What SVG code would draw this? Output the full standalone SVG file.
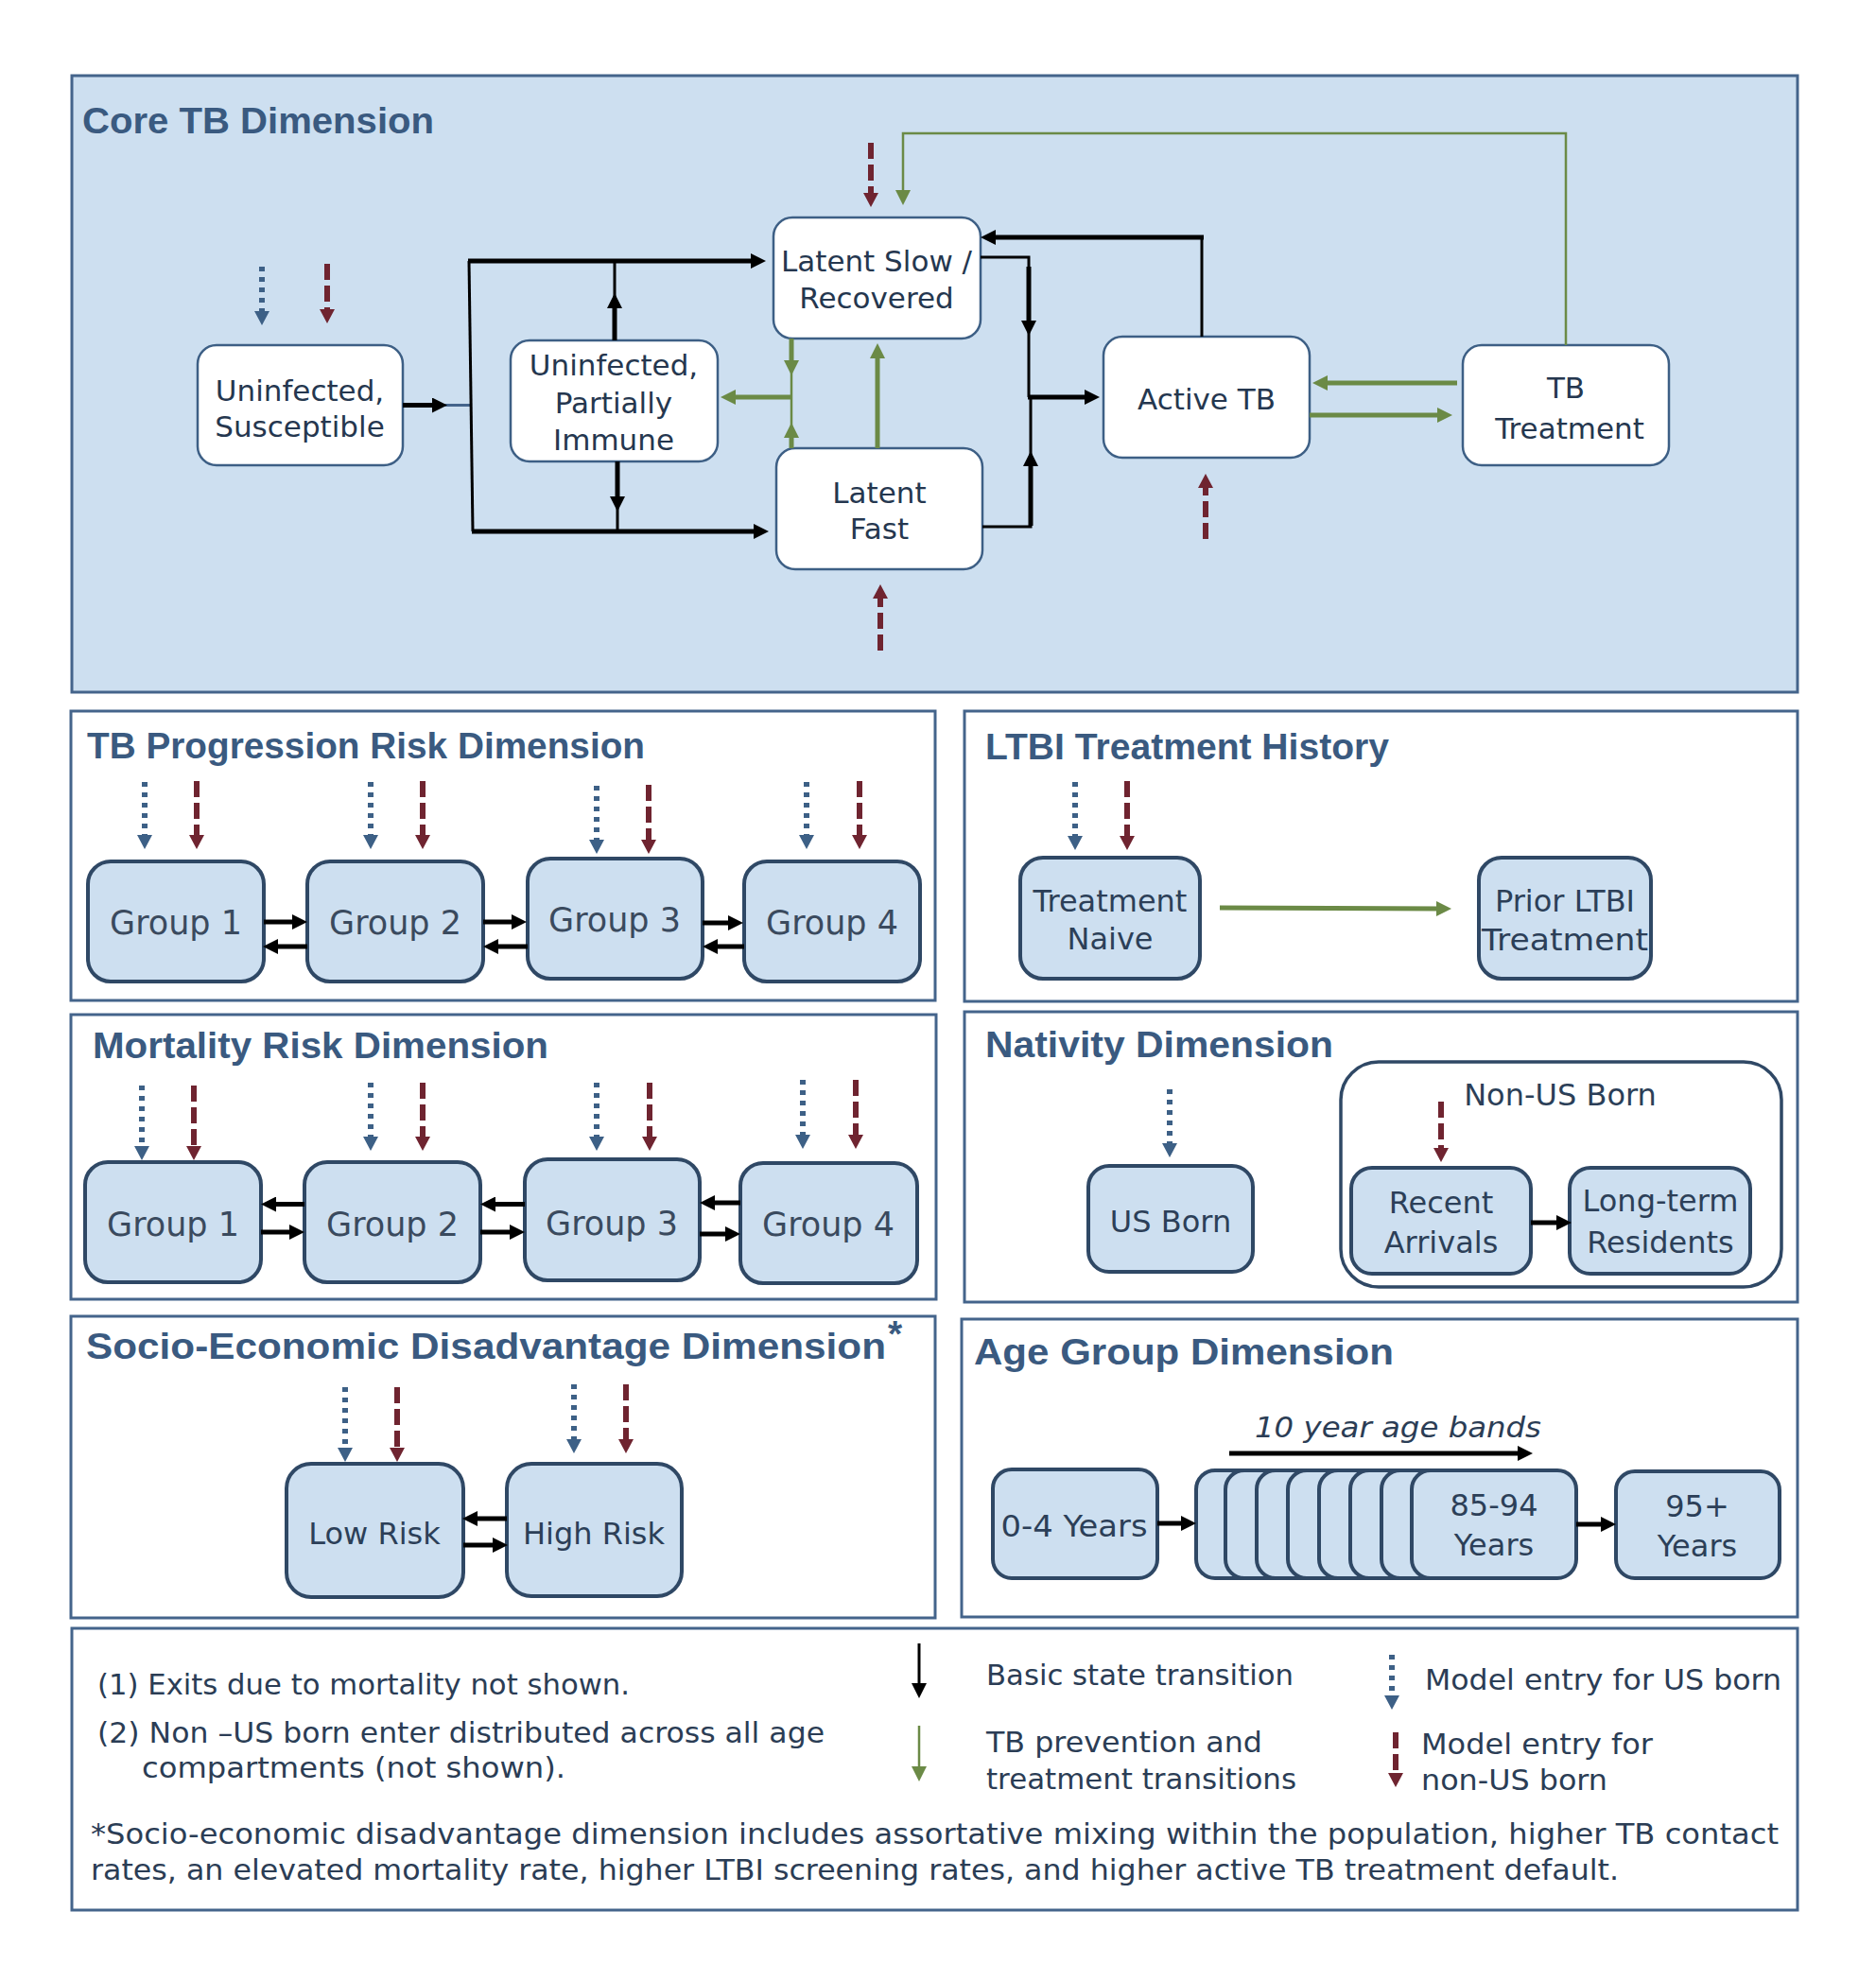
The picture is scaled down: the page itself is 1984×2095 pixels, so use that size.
<svg xmlns="http://www.w3.org/2000/svg" width="1984" height="2095" viewBox="0 0 1984 2095">
<style>
.bg{fill:#ffffff}
.pcore{fill:#cddff0;stroke:#44648b;stroke-width:3}
.panel{fill:#ffffff;stroke:#44648b;stroke-width:3}
.wn{fill:#ffffff;stroke:#3d5f85;stroke-width:2.5}
.bn{fill:#cddff0;stroke:#2f4865;stroke-width:4}
.box{fill:#ffffff;stroke:#2f4865;stroke-width:3.5}
.title{font-family:"Liberation Sans",Arial,sans-serif;font-weight:bold;fill:#3a5a80;font-size:39px}
.t{font-family:"DejaVu Sans",sans-serif;fill:#25374f;font-size:31px;text-anchor:middle}
.tg{font-family:"DejaVu Sans",sans-serif;fill:#3a4a5e;font-size:35px;text-anchor:middle}
.tb{font-family:"DejaVu Sans",sans-serif;fill:#2c3f58;font-size:32px;text-anchor:middle}
.lg{font-family:"DejaVu Sans",sans-serif;fill:#2b3d55;font-size:30px}
.k5{stroke:#000;stroke-width:5;fill:none}
.k3{stroke:#000;stroke-width:3;fill:none}
.s3{stroke:#44648b;stroke-width:3;fill:none}
.g5{stroke:#6b8a46;stroke-width:5;fill:none}
.g2{stroke:#6b8a46;stroke-width:2.5;fill:none}
.us{stroke:#3d6086;stroke-width:6;stroke-dasharray:5 6;fill:none}
.nus{stroke:#6f2430;stroke-width:6;stroke-dasharray:17 6;fill:none}
</style>
<defs>
<marker id="ak" markerUnits="userSpaceOnUse" markerWidth="16" markerHeight="16" refX="6" refY="8" orient="auto"><path d="M0,0 L16,8 L0,16 z" fill="#000"/></marker>
<marker id="ag" markerUnits="userSpaceOnUse" markerWidth="16" markerHeight="16" refX="6" refY="8" orient="auto"><path d="M0,0 L16,8 L0,16 z" fill="#6b8a46"/></marker>
<marker id="ab" markerUnits="userSpaceOnUse" markerWidth="16" markerHeight="16" refX="5" refY="8" orient="auto"><path d="M0,0 L15,8 L0,16 z" fill="#3d6086"/></marker>
<marker id="ar" markerUnits="userSpaceOnUse" markerWidth="16" markerHeight="16" refX="5" refY="8" orient="auto"><path d="M0,0 L15,8 L0,16 z" fill="#6f2430"/></marker>
</defs>
<rect class="bg" x="0" y="0" width="1984" height="2095"/>

<!-- Panels -->
<g id="panel-core">
<rect class="pcore" x="76" y="80" width="1825" height="652"/>
<text class="title" x="87" y="141" font-size="41" textLength="372" lengthAdjust="spacingAndGlyphs">Core TB Dimension</text>
</g>
<g id="panel-progression">
<rect class="panel" x="75" y="752" width="914" height="306"/>
<text class="title" x="92" y="802" textLength="590" lengthAdjust="spacingAndGlyphs">TB Progression Risk Dimension</text>
</g>
<g id="panel-mortality">
<rect class="panel" x="75" y="1073" width="915" height="301"/>
<text class="title" x="98" y="1119" textLength="482" lengthAdjust="spacingAndGlyphs">Mortality Risk Dimension</text>
</g>
<g id="panel-ltbi">
<rect class="panel" x="1020" y="752" width="881" height="307"/>
<text class="title" x="1042" y="803" textLength="427" lengthAdjust="spacingAndGlyphs">LTBI Treatment History</text>
</g>
<g id="panel-nativity">
<rect class="panel" x="1020" y="1070" width="881" height="307"/>
<text class="title" x="1042" y="1118" textLength="368" lengthAdjust="spacingAndGlyphs">Nativity Dimension</text>
</g>
<g id="panel-socio">
<rect class="panel" x="75" y="1392" width="914" height="319"/>
<text class="title" x="91" y="1437" textLength="846" lengthAdjust="spacingAndGlyphs">Socio-Economic Disadvantage Dimension</text>
<text class="title" x="939" y="1424" font-size="20">*</text>
</g>
<g id="panel-age">
<rect class="panel" x="1017" y="1395" width="884" height="315"/>
<text class="title" x="1030" y="1443" textLength="444" lengthAdjust="spacingAndGlyphs">Age Group Dimension</text>
<text class="lg" x="1327" y="1520" font-style="italic" textLength="303" lengthAdjust="spacingAndGlyphs">10 year age bands</text>
</g>
<g id="panel-legend">
<rect class="panel" x="76" y="1722" width="1825" height="298"/>
<text class="lg" x="103" y="1792" textLength="563" lengthAdjust="spacingAndGlyphs">(1) Exits due to mortality not shown.</text>
<text class="lg" x="103" y="1843" textLength="769" lengthAdjust="spacingAndGlyphs">(2) Non –US born enter distributed across all age</text>
<text class="lg" x="150" y="1880" textLength="448" lengthAdjust="spacingAndGlyphs">compartments (not shown).</text>
<text class="lg" x="1043" y="1782" textLength="325" lengthAdjust="spacingAndGlyphs">Basic state transition</text>
<text class="lg" x="1043" y="1853" textLength="292" lengthAdjust="spacingAndGlyphs">TB prevention and</text>
<text class="lg" x="1043" y="1892" textLength="328" lengthAdjust="spacingAndGlyphs">treatment transitions</text>
<text class="lg" x="1507" y="1787" textLength="377" lengthAdjust="spacingAndGlyphs">Model entry for US born</text>
<text class="lg" x="1503" y="1855" textLength="245" lengthAdjust="spacingAndGlyphs">Model entry for</text>
<text class="lg" x="1503" y="1893" textLength="197" lengthAdjust="spacingAndGlyphs">non-US born</text>
<text class="lg" x="96" y="1950" textLength="1785" lengthAdjust="spacingAndGlyphs">*Socio-economic disadvantage dimension includes assortative mixing within the population, higher TB contact</text>
<text class="lg" x="96" y="1988" textLength="1616" lengthAdjust="spacingAndGlyphs">rates, an elevated mortality rate, higher LTBI screening rates, and higher active TB treatment default.</text>
</g>

<!-- Core nodes -->
<g id="n-susceptible"><rect class="wn" x="209" y="365" width="217" height="127" rx="20"/>
<text class="t" x="317" y="424" font-size="32">Uninfected,</text><text class="t" x="317" y="462" font-size="32">Susceptible</text></g>
<g id="n-partial"><rect class="wn" x="540" y="360" width="219" height="128" rx="20"/>
<text class="t" x="649" y="397">Uninfected,</text><text class="t" x="649" y="437">Partially</text><text class="t" x="649" y="476">Immune</text></g>
<g id="n-latentslow"><rect class="wn" x="818" y="230" width="219" height="128" rx="20"/>
<text class="t" x="927" y="287">Latent Slow /</text><text class="t" x="927" y="326">Recovered</text></g>
<g id="n-latentfast"><rect class="wn" x="821" y="474" width="218" height="128" rx="20"/>
<text class="t" x="930" y="532">Latent</text><text class="t" x="930" y="570">Fast</text></g>
<g id="n-active"><rect class="wn" x="1167" y="356" width="218" height="128" rx="20"/>
<text class="t" x="1276" y="433">Active TB</text></g>
<g id="n-treatment"><rect class="wn" x="1547" y="365" width="218" height="127" rx="20"/>
<text class="t" x="1656" y="421">TB</text><text class="t" x="1660" y="464">Treatment</text></g>

<!-- Progression nodes -->
<g id="n-prog1"><rect class="bn" x="93" y="911" width="186" height="127" rx="24"/><text class="tg" x="186" y="988">Group 1</text></g>
<g id="n-prog2"><rect class="bn" x="325" y="911" width="186" height="127" rx="24"/><text class="tg" x="418" y="988">Group 2</text></g>
<g id="n-prog3"><rect class="bn" x="558" y="908" width="185" height="127" rx="24"/><text class="tg" x="650" y="985">Group 3</text></g>
<g id="n-prog4"><rect class="bn" x="787" y="911" width="186" height="127" rx="24"/><text class="tg" x="880" y="988">Group 4</text></g>

<!-- Mortality nodes -->
<g id="n-mort1"><rect class="bn" x="90" y="1229" width="186" height="127" rx="24"/><text class="tg" x="183" y="1307">Group 1</text></g>
<g id="n-mort2"><rect class="bn" x="322" y="1229" width="186" height="127" rx="24"/><text class="tg" x="415" y="1307">Group 2</text></g>
<g id="n-mort3"><rect class="bn" x="555" y="1226" width="185" height="128" rx="24"/><text class="tg" x="647" y="1306">Group 3</text></g>
<g id="n-mort4"><rect class="bn" x="783" y="1230" width="187" height="127" rx="24"/><text class="tg" x="876" y="1307">Group 4</text></g>

<!-- LTBI nodes -->
<g id="n-naive"><rect class="bn" x="1079" y="907" width="190" height="128" rx="24"/>
<text class="tb" x="1174" y="964">Treatment</text><text class="tb" x="1174" y="1004">Naive</text></g>
<g id="n-prior"><rect class="bn" x="1564" y="907" width="182" height="128" rx="24"/>
<text class="tb" x="1655" y="964">Prior LTBI</text><text class="tb" x="1655" y="1005" textLength="176" lengthAdjust="spacingAndGlyphs">Treatment</text></g>

<!-- Nativity nodes -->
<g id="n-nonus"><rect class="box" x="1418" y="1123" width="466" height="238" rx="40"/>
<text class="tb" x="1650" y="1169" font-size="30" fill="#1e2633">Non-US Born</text></g>
<g id="n-usborn"><rect class="bn" x="1151" y="1233" width="174" height="112" rx="22"/><text class="tb" x="1238" y="1303">US Born</text></g>
<g id="n-recent"><rect class="bn" x="1429" y="1235" width="190" height="112" rx="22"/>
<text class="tb" x="1524" y="1283">Recent</text><text class="tb" x="1524" y="1325">Arrivals</text></g>
<g id="n-longterm"><rect class="bn" x="1660" y="1235" width="191" height="112" rx="22"/>
<text class="tb" x="1756" y="1281">Long-term</text><text class="tb" x="1756" y="1325">Residents</text></g>

<!-- Socio nodes -->
<g id="n-low"><rect class="bn" x="303" y="1548" width="187" height="141" rx="26"/><text class="tb" x="396" y="1633">Low Risk</text></g>
<g id="n-high"><rect class="bn" x="536" y="1548" width="185" height="140" rx="26"/><text class="tb" x="628" y="1633">High Risk</text></g>

<!-- Age nodes -->
<g id="n-age04"><rect class="bn" x="1050" y="1554" width="174" height="115" rx="20"/><text class="tb" x="1136" y="1625" textLength="155" lengthAdjust="spacingAndGlyphs">0-4 Years</text></g>
<g id="n-agebands">
<rect class="bn" x="1265" y="1555" width="174" height="114" rx="20"/>
<rect class="bn" x="1296" y="1555" width="174" height="114" rx="20"/>
<rect class="bn" x="1329" y="1555" width="174" height="114" rx="20"/>
<rect class="bn" x="1362" y="1555" width="174" height="114" rx="20"/>
<rect class="bn" x="1395" y="1555" width="174" height="114" rx="20"/>
<rect class="bn" x="1428" y="1555" width="174" height="114" rx="20"/>
<rect class="bn" x="1461" y="1555" width="174" height="114" rx="20"/>
<rect class="bn" x="1493" y="1555" width="174" height="114" rx="20"/>
<text class="tb" x="1580" y="1603">85-94</text><text class="tb" x="1580" y="1645">Years</text></g>
<g id="n-age95"><rect class="bn" x="1709" y="1556" width="173" height="113" rx="20"/>
<text class="tb" x="1795" y="1604">95+</text><text class="tb" x="1795" y="1646">Years</text></g>

<!-- Connectors -->
<g id="connectors">
<!-- core black -->
<line class="s3" x1="426" y1="428.5" x2="497" y2="428.5"/>
<line class="k5" x1="426" y1="428.5" x2="463" y2="428.5" marker-end="url(#ak)"/>
<polyline class="k3" points="496,276 500,562"/>
<line class="k5" x1="495" y1="276" x2="800" y2="276" marker-end="url(#ak)"/>
<line class="k5" x1="499" y1="562" x2="803" y2="562" marker-end="url(#ak)"/>
<line class="k3" x1="650" y1="360" x2="650" y2="276"/>
<line class="k5" x1="650" y1="360" x2="650" y2="320" marker-end="url(#ak)"/>
<line class="k3" x1="653" y1="488" x2="653" y2="562"/>
<line class="k5" x1="653" y1="488" x2="653" y2="531" marker-end="url(#ak)"/>
<polyline class="k3" points="1037,272 1088,272 1088,420"/>
<line class="k5" x1="1088" y1="282" x2="1088" y2="345" marker-end="url(#ak)"/>
<polyline class="k3" points="1039,557 1090,557 1090,420"/>
<line class="k5" x1="1090" y1="556" x2="1090" y2="487" marker-end="url(#ak)"/>
<line class="k5" x1="1087" y1="420" x2="1153" y2="420" marker-end="url(#ak)"/>
<line class="k3" x1="1271" y1="356" x2="1271" y2="251"/>
<line class="k5" x1="1273" y1="251" x2="1047" y2="251" marker-end="url(#ak)"/>
<!-- core green -->
<line class="g5" x1="1541" y1="405" x2="1398" y2="405" marker-end="url(#ag)"/>
<line class="g5" x1="1385" y1="439" x2="1526" y2="439" marker-end="url(#ag)"/>
<polyline class="g2" points="1656,365 1656,141 955,141 955,207" marker-end="url(#ag)"/>
<line class="g2" x1="837" y1="358" x2="837" y2="474"/>
<line class="g5" x1="837" y1="358" x2="837" y2="387" marker-end="url(#ag)"/>
<line class="g5" x1="837" y1="474" x2="837" y2="457" marker-end="url(#ag)"/>
<line class="g5" x1="838" y1="420" x2="772" y2="420" marker-end="url(#ag)"/>
<line class="g5" x1="928" y1="474" x2="928" y2="373" marker-end="url(#ag)"/>
<!-- core entries -->
<line class="us" x1="277" y1="282" x2="277" y2="334" marker-end="url(#ab)"/>
<line class="nus" x1="346" y1="279" x2="346" y2="332" marker-end="url(#ar)"/>
<line class="nus" x1="921" y1="151" x2="921" y2="209" marker-end="url(#ar)"/>
<line class="nus" x1="931" y1="688" x2="931" y2="628" marker-end="url(#ar)"/>
<line class="nus" x1="1275" y1="570" x2="1275" y2="511" marker-end="url(#ar)"/>

<!-- progression -->
<line class="k5" x1="279" y1="975" x2="315" y2="975" marker-end="url(#ak)"/>
<line class="k5" x1="325" y1="1001" x2="288" y2="1001" marker-end="url(#ak)"/>
<line class="k5" x1="511" y1="975" x2="547" y2="975" marker-end="url(#ak)"/>
<line class="k5" x1="558" y1="1001" x2="521" y2="1001" marker-end="url(#ak)"/>
<line class="k5" x1="743" y1="976" x2="776" y2="976" marker-end="url(#ak)"/>
<line class="k5" x1="787" y1="1001" x2="753" y2="1001" marker-end="url(#ak)"/>
<line class="us" x1="153" y1="827" x2="153" y2="888" marker-end="url(#ab)"/>
<line class="nus" x1="208" y1="826" x2="208" y2="888" marker-end="url(#ar)"/>
<line class="us" x1="392" y1="827" x2="392" y2="888" marker-end="url(#ab)"/>
<line class="nus" x1="447" y1="826" x2="447" y2="888" marker-end="url(#ar)"/>
<line class="us" x1="631" y1="831" x2="631" y2="893" marker-end="url(#ab)"/>
<line class="nus" x1="686" y1="830" x2="686" y2="893" marker-end="url(#ar)"/>
<line class="us" x1="853" y1="827" x2="853" y2="888" marker-end="url(#ab)"/>
<line class="nus" x1="909" y1="826" x2="909" y2="888" marker-end="url(#ar)"/>

<!-- mortality -->
<line class="k5" x1="322" y1="1273.5" x2="286" y2="1273.5" marker-end="url(#ak)"/>
<line class="k5" x1="555" y1="1273.5" x2="518" y2="1273.5" marker-end="url(#ak)"/>
<line class="k5" x1="783" y1="1272" x2="750" y2="1272" marker-end="url(#ak)"/>
<line class="k5" x1="276" y1="1303" x2="312" y2="1303" marker-end="url(#ak)"/>
<line class="k5" x1="508" y1="1303" x2="545" y2="1303" marker-end="url(#ak)"/>
<line class="k5" x1="740" y1="1305" x2="773" y2="1305" marker-end="url(#ak)"/>
<line class="us" x1="150" y1="1148" x2="150" y2="1217" marker-end="url(#ab)"/>
<line class="nus" x1="205" y1="1148" x2="205" y2="1217" marker-end="url(#ar)"/>
<line class="us" x1="392" y1="1145" x2="392" y2="1207" marker-end="url(#ab)"/>
<line class="nus" x1="447" y1="1145" x2="447" y2="1207" marker-end="url(#ar)"/>
<line class="us" x1="631" y1="1145" x2="631" y2="1207" marker-end="url(#ab)"/>
<line class="nus" x1="687" y1="1145" x2="687" y2="1207" marker-end="url(#ar)"/>
<line class="us" x1="849" y1="1142" x2="849" y2="1205" marker-end="url(#ab)"/>
<line class="nus" x1="905" y1="1142" x2="905" y2="1205" marker-end="url(#ar)"/>

<!-- LTBI -->
<line class="g5" x1="1290" y1="960" x2="1525" y2="961" marker-end="url(#ag)"/>
<line class="us" x1="1137" y1="827" x2="1137" y2="889" marker-end="url(#ab)"/>
<line class="nus" x1="1192" y1="826" x2="1192" y2="889" marker-end="url(#ar)"/>

<!-- Nativity -->
<line class="k5" x1="1619" y1="1293" x2="1652" y2="1293" marker-end="url(#ak)"/>
<line class="us" x1="1237" y1="1152" x2="1237" y2="1214" marker-end="url(#ab)"/>
<line class="nus" x1="1524" y1="1165" x2="1524" y2="1219" marker-end="url(#ar)"/>

<!-- Socio -->
<line class="k5" x1="536" y1="1606" x2="499" y2="1606" marker-end="url(#ak)"/>
<line class="k5" x1="490" y1="1634" x2="527" y2="1634" marker-end="url(#ak)"/>
<line class="us" x1="365" y1="1467" x2="365" y2="1536" marker-end="url(#ab)"/>
<line class="nus" x1="420" y1="1467" x2="420" y2="1536" marker-end="url(#ar)"/>
<line class="us" x1="607" y1="1464" x2="607" y2="1527" marker-end="url(#ab)"/>
<line class="nus" x1="662" y1="1464" x2="662" y2="1527" marker-end="url(#ar)"/>

<!-- Age -->
<line class="k5" x1="1300" y1="1537" x2="1611" y2="1537" marker-end="url(#ak)"/>
<line class="k5" x1="1224" y1="1611" x2="1255" y2="1611" marker-end="url(#ak)"/>
<line class="k5" x1="1667" y1="1612" x2="1699" y2="1612" marker-end="url(#ak)"/>

<!-- Legend -->
<line class="k3" x1="972" y1="1738" x2="972" y2="1786" marker-end="url(#ak)"/>
<line class="g2" x1="972" y1="1825" x2="972" y2="1874" stroke-width="3.5" marker-end="url(#ag)"/>
<line class="us" x1="1472" y1="1750" x2="1472" y2="1798" stroke-width="4" marker-end="url(#ab)"/>
<line class="nus" x1="1476" y1="1832" x2="1476" y2="1880" stroke-width="4" marker-end="url(#ar)"/>
</g>
</svg>
